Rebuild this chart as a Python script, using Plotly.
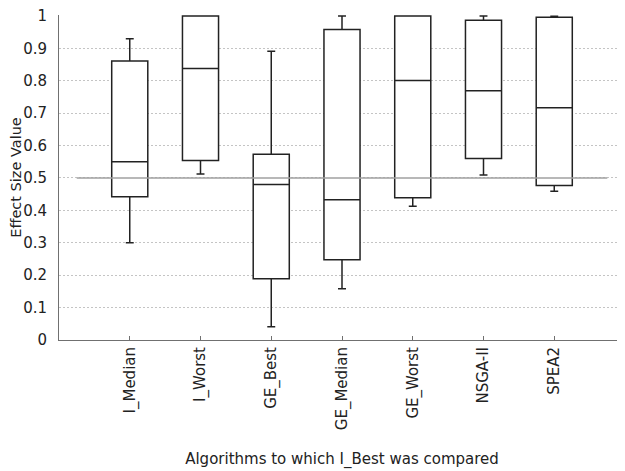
import plotly.graph_objects as go

categories = ["I_Median", "I_Worst", "GE_Best", "GE_Median", "GE_Worst", "NSGA-II", "SPEA2"]
lower_whisker = [0.300, 0.512, 0.041, 0.158, 0.413, 0.509, 0.459]
q1_values = [0.442, 0.554, 0.189, 0.248, 0.439, 0.560, 0.477]
medians = [0.550, 0.838, 0.480, 0.433, 0.801, 0.769, 0.717]
q3_values = [0.861, 1.000, 0.573, 0.958, 1.000, 0.987, 0.996]
upper_whisker = [0.930, 1.000, 0.891, 1.000, 1.000, 1.000, 0.999]
reference_value = 0.5
y_ticks = [0, 0.1, 0.2, 0.3, 0.4, 0.5, 0.6, 0.7, 0.8, 0.9, 1]
y_tick_labels = ["0", "0.1", "0.2", "0.3", "0.4", "0.5", "0.6", "0.7", "0.8", "0.9", "1"]

positions = list(range(1, len(categories) + 1))
font = "DejaVu Sans, Verdana, sans-serif"

fig = go.Figure()
fig.add_trace(go.Scatter(
    x=[0.25, len(categories) + 0.75], y=[reference_value, reference_value],
    mode="lines", line=dict(color="#a0a0a0", width=1.5), hoverinfo="skip", showlegend=False))
fig.add_trace(go.Box(
    x=positions, q1=q1_values, median=medians, q3=q3_values,
    lowerfence=lower_whisker, upperfence=upper_whisker,
    width=0.51, whiskerwidth=0.22, fillcolor="white",
    line=dict(color="#222222", width=1.5), boxpoints=False, showlegend=False))

# page body has an 8px default margin, so the figure is sized to fit the 625x471 window
fig.update_layout(
    width=617, height=463,
    margin=dict(l=51, r=0, t=7, b=131),
    paper_bgcolor="white", plot_bgcolor="white",
    font=dict(family=font, size=14, color="#222222"),
    xaxis=dict(
        range=[0, len(categories) + 1], tickvals=positions, ticktext=categories,
        tickangle=-90, ticks="inside", ticklen=4, tickcolor="#707070",
        showgrid=False, zeroline=False, showline=True, linecolor="#707070", linewidth=1,
        automargin=False,
        title=dict(text="Algorithms to which I_Best was compared", standoff=24,
                   font=dict(size=15)),
        tickfont=dict(size=15)),
    yaxis=dict(
        range=[0, 1.003], tickvals=y_ticks, ticktext=y_tick_labels,
        showgrid=True, gridcolor="#c4c4c4", griddash="2px,2px", gridwidth=1,
        zeroline=False, showline=True, linecolor="#707070", linewidth=1,
        ticks="", ticklabelstandoff=8, automargin=False, ticklabeloverflow="allow",
        title=dict(text="Effect Size Value", standoff=10, font=dict(size=14.5)),
        tickfont=dict(size=15)),
)

fig.write_html("out.html")
